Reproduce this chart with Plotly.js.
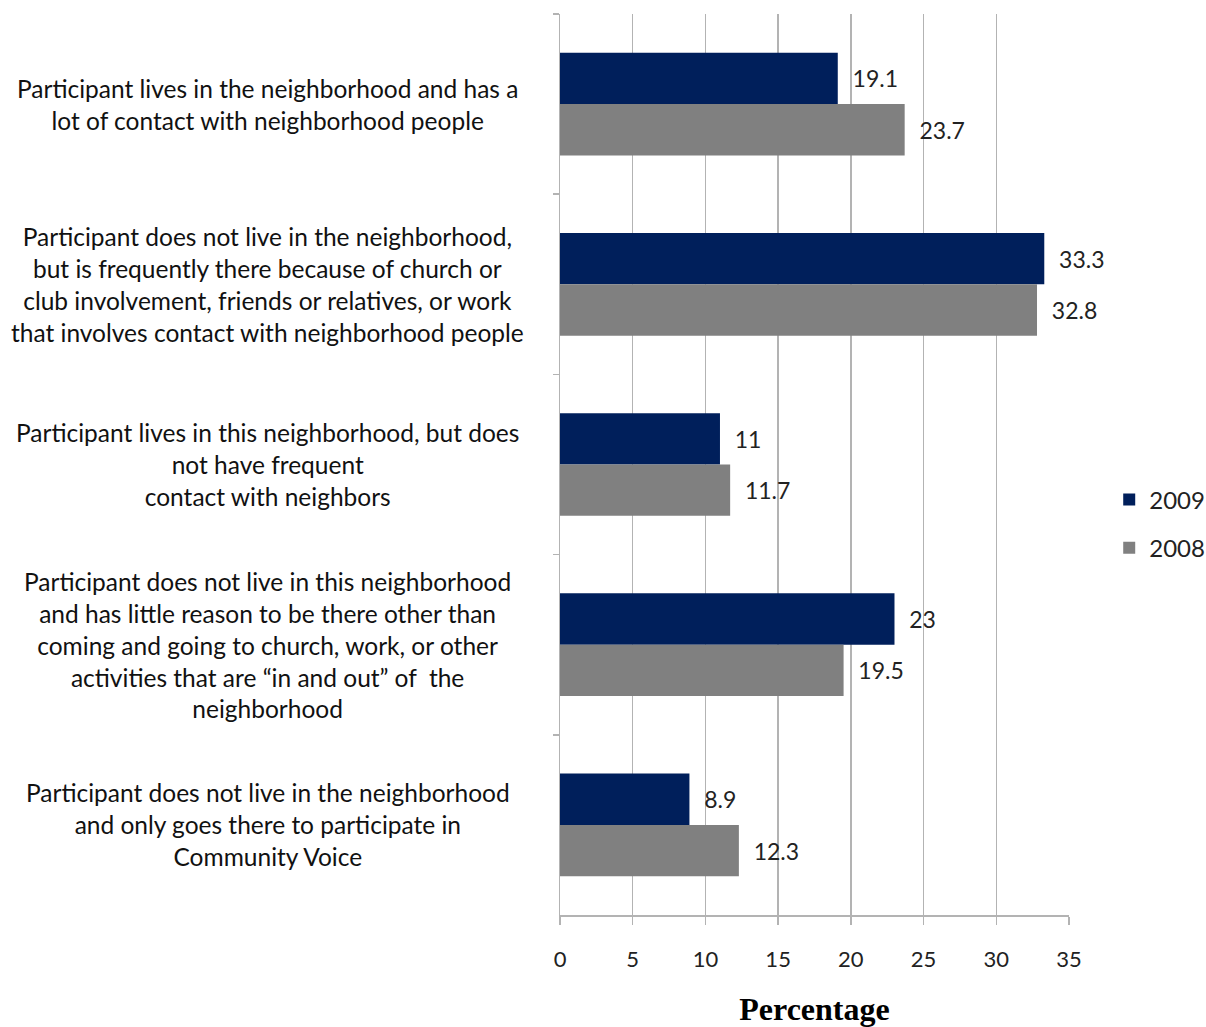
<!DOCTYPE html>
<html><head><meta charset="utf-8">
<script src="https://cdn.plot.ly/plotly-3.0.1.min.js"></script>
<style>body{margin:0;background:#fff}#chart{width:1206px;height:1027px}</style>
</head><body><div id="chart"></div>
<script>
const categories = [
  "Participant lives in the neighborhood and has a<br>lot of contact with neighborhood people",
  "Participant does not live in the neighborhood,<br>but is frequently there because of church or<br>club involvement, friends or relatives, or work<br>that involves contact with neighborhood people",
  "Participant lives in this neighborhood, but does<br>not have frequent<br>contact with neighbors",
  "Participant does not live in this neighborhood<br>and has little reason to be there other than<br>coming and going to church, work, or other<br>activities that are \u201cin and out\u201d of  the<br>neighborhood",
  "Participant does not live in the neighborhood<br>and only goes there to participate in<br>Community Voice"
];
const catKeys = ["c1","c2","c3","c4","c5"];
const values2009 = [19.1, 33.3, 11, 23, 8.9];
const values2008 = [23.7, 32.8, 11.7, 19.5, 12.3];
const seriesNames = ["2009", "2008"];
const xTicks = [0,5,10,15,20,25,30,35];

const font = "Lato, 'Open Sans', sans-serif";
const traces = [
  {type:'bar', orientation:'h', name:seriesNames[0], y:catKeys, x:values2009,
   marker:{color:'#001F5B'}, text:values2009.map(v=>String(v)), texttemplate:'  %{text}',
   textposition:'outside', cliponaxis:false, textfont:{family:font,size:23,color:'#222'},
   legendgroup:'a', hoverinfo:'x'},
  {type:'bar', orientation:'h', name:seriesNames[1], y:catKeys, x:values2008,
   marker:{color:'#808080'}, text:values2008.map(v=>String(v)), texttemplate:'  %{text}',
   textposition:'outside', cliponaxis:false, textfont:{family:font,size:23,color:'#222'},
   legendgroup:'b', hoverinfo:'x'}
];

const annotations = categories.map((c,i)=>({
  xref:'paper', yref:'y', x:-0.574, y:catKeys[i], xanchor:'center', yanchor:'middle',
  text:c, align:'center', showarrow:false, font:{family:font,size:24.5,color:'#111'}
}));

const layout = {
  width:1206, height:1027,
  margin:{l:560, r:137, t:14, b:112, autoexpand:false},
  paper_bgcolor:'#fff', plot_bgcolor:'#fff',
  barmode:'group', bargap:0.43, bargroupgap:0,
  font:{family:font, size:22, color:'#222'},
  xaxis:{range:[0,35], tickvals:xTicks, ticktext:xTicks.map(String), showgrid:true, gridcolor:'#b3b3b3', gridwidth:1.5,
    showline:true, linecolor:'#b3b3b3', linewidth:1.5, ticks:'outside', ticklen:8, tickcolor:'#b3b3b3', tickwidth:1.5,
    zeroline:false, tickfont:{family:font,size:22,color:'#222'}, ticklabelstandoff:16,
    title:{text:'<b>Percentage</b>', font:{family:"'Liberation Serif','Times New Roman',serif", size:32, color:'#000'}, standoff:32}},
  yaxis:{autorange:'reversed', showticklabels:false, showline:true, linecolor:'#b3b3b3', linewidth:1.5,
    ticks:'outside', ticklen:6, tickcolor:'#b3b3b3', tickwidth:1.5, tickson:'boundaries', showgrid:false, zeroline:false},
  legend:{x:1.079, y:0.434, xanchor:'left', yanchor:'middle', font:{family:font,size:24,color:'#222'},
    tracegroupgap:14, itemwidth:30, bgcolor:'rgba(0,0,0,0)'},
  annotations:annotations,
  showlegend:true
};
Plotly.newPlot('chart', traces, layout, {staticPlot:true, displayModeBar:false});
</script></body></html>
